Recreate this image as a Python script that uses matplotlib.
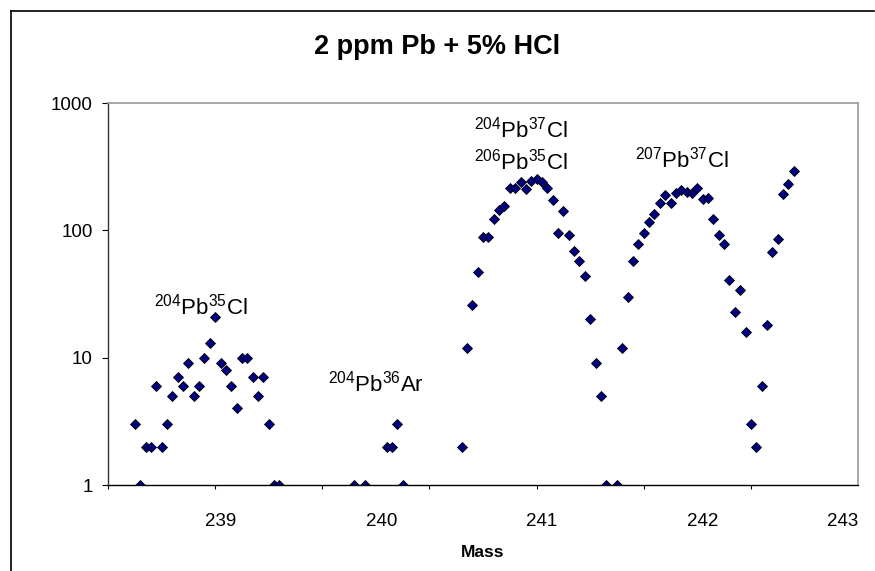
import numpy as np
from matplotlib import pyplot as plt
from matplotlib.lines import Line2D

plt.rcParams['font.family'] = ['Liberation Sans', 'DejaVu Sans']
plt.rcParams['mathtext.fontset'] = 'custom'
plt.rcParams['mathtext.rm'] = 'Liberation Sans'

# scan channel (1/30 amu steps from 238.33) and counts; zero counts are not shown on log axis
channel = [5, 6, 7, 8, 9, 10, 11, 12, 13, 14, 15, 16, 17, 18, 19, 20, 21, 22, 23, 24,
           25, 26, 27, 28, 29, 30, 31, 32,
           46, 48, 52, 53, 54, 55,
           66, 67, 68, 69, 70, 71, 72, 73, 74, 75, 76, 77, 78, 79, 80, 81, 82, 83, 84,
           85, 86, 87, 88, 89, 90, 91, 92, 93, 95, 96, 97, 98, 99, 100, 101, 102, 103,
           104, 105, 106, 107, 108, 109, 110, 111, 112, 113, 114, 115, 116, 117, 118,
           119, 120, 121, 122, 123, 124, 125, 126, 127, 128]
counts = [3, 1, 2, 2, 6, 2, 3, 5, 7, 6, 9, 5, 6, 10, 13, 21, 9, 8, 6, 4,
          10, 10, 7, 5, 7, 3, 1, 1,
          1, 1, 2, 2, 3, 1,
          2, 12, 26, 47, 88, 89, 123, 144, 155, 214, 216, 240, 210, 245, 254, 241, 215, 173, 95,
          141, 92, 69, 57, 44, 20, 9, 5, 1, 1, 12, 30, 57, 78, 95, 116, 134, 165,
          188, 163, 195, 207, 200, 198, 214, 175, 178, 123, 92, 78, 41, 23, 34,
          16, 3, 2, 6, 18, 67, 85, 192, 231, 291]

MASS_START = 238 + 1 / 3
MASS_STEP = 1 / 30
N_CHANNELS = 140

# category labels are shown every 30 channels (rounded mass)
label_channels = [21, 51, 81, 111, 140]
tick_labels = ['239', '240', '241', '242', '243']

peak_labels = [r'$\mathregular{^{204}}$Pb$\mathregular{^{35}}$Cl',
               r'$\mathregular{^{204}}$Pb$\mathregular{^{36}}$Ar',
               r'$\mathregular{^{204}}$Pb$\mathregular{^{37}}$Cl',
               r'$\mathregular{^{206}}$Pb$\mathregular{^{35}}$Cl',
               r'$\mathregular{^{207}}$Pb$\mathregular{^{37}}$Cl']
peak_label_mass = [238.91, 240.0, 240.9, 240.9, 241.905]
peak_label_count = [25, 6.3, 620, 350, 357]


def main():
    mass = MASS_START + np.array(channel) * MASS_STEP

    fig = plt.figure(figsize=(8.75, 5.71), dpi=100)
    ax = fig.add_axes([108 / 875, 1 - 485 / 571, 750 / 875, 382 / 571])

    ax.plot(mass, counts, linestyle='none', marker='D', markersize=4.6,
            markerfacecolor='#000080', markeredgecolor='black', markeredgewidth=0.6)

    ax.set_yscale('log')
    ax.set_ylim(1, 1000)
    ax.set_yticks([1, 10, 100, 1000])
    ax.set_yticklabels(['1', '10', '100', '1000'])
    ax.yaxis.set_minor_locator(plt.NullLocator())
    ax.tick_params(axis='y', direction='out', length=4, width=0.8, pad=7, labelsize=13.5)

    ax.set_xlim(MASS_START, MASS_START + N_CHANNELS * MASS_STEP)
    ax.set_xticks(MASS_START + np.array(label_channels) * MASS_STEP)
    ax.set_xticklabels(tick_labels)
    ax.set_xticks(MASS_START + np.arange(0, N_CHANNELS + 1, 20) * MASS_STEP, minor=True)
    ax.tick_params(axis='x', which='major', length=0, pad=20, labelsize=13.5)
    ax.tick_params(axis='x', which='minor', direction='out', length=3, width=0.8)
    ax.get_xticklabels()[-1].set_horizontalalignment('right')

    ax.spines['left'].set_color('#333333')
    ax.spines['bottom'].set_color('black')
    ax.spines['top'].set_color('#9a9a9a')
    ax.spines['right'].set_color('#9a9a9a')
    for side in ['left', 'bottom']:
        ax.spines[side].set_linewidth(1.0)
    for side in ['top', 'right']:
        ax.spines[side].set_linewidth(1.2)

    for text, m, c in zip(peak_labels, peak_label_mass, peak_label_count):
        ax.text(m, c, text, ha='center', va='center', fontsize=16)

    ax.set_xlabel('Mass', fontsize=12.5, fontweight='bold', labelpad=11)
    fig.text(0.5, 1 - 47 / 571, '2 ppm Pb + 5% HCl', ha='center', va='center',
             fontsize=19.5, fontweight='bold')

    # chart area border (left and top edges visible)
    fig.add_artist(Line2D([10.5 / 875, 10.5 / 875], [0, 1 - 11 / 571],
                          transform=fig.transFigure, color='black', linewidth=1.2))
    fig.add_artist(Line2D([10.5 / 875, 0.999], [1 - 11 / 571, 1 - 11 / 571],
                          transform=fig.transFigure, color='black', linewidth=1.2))

    fig.savefig('out.png', dpi=100)


if __name__ == '__main__':
    main()
